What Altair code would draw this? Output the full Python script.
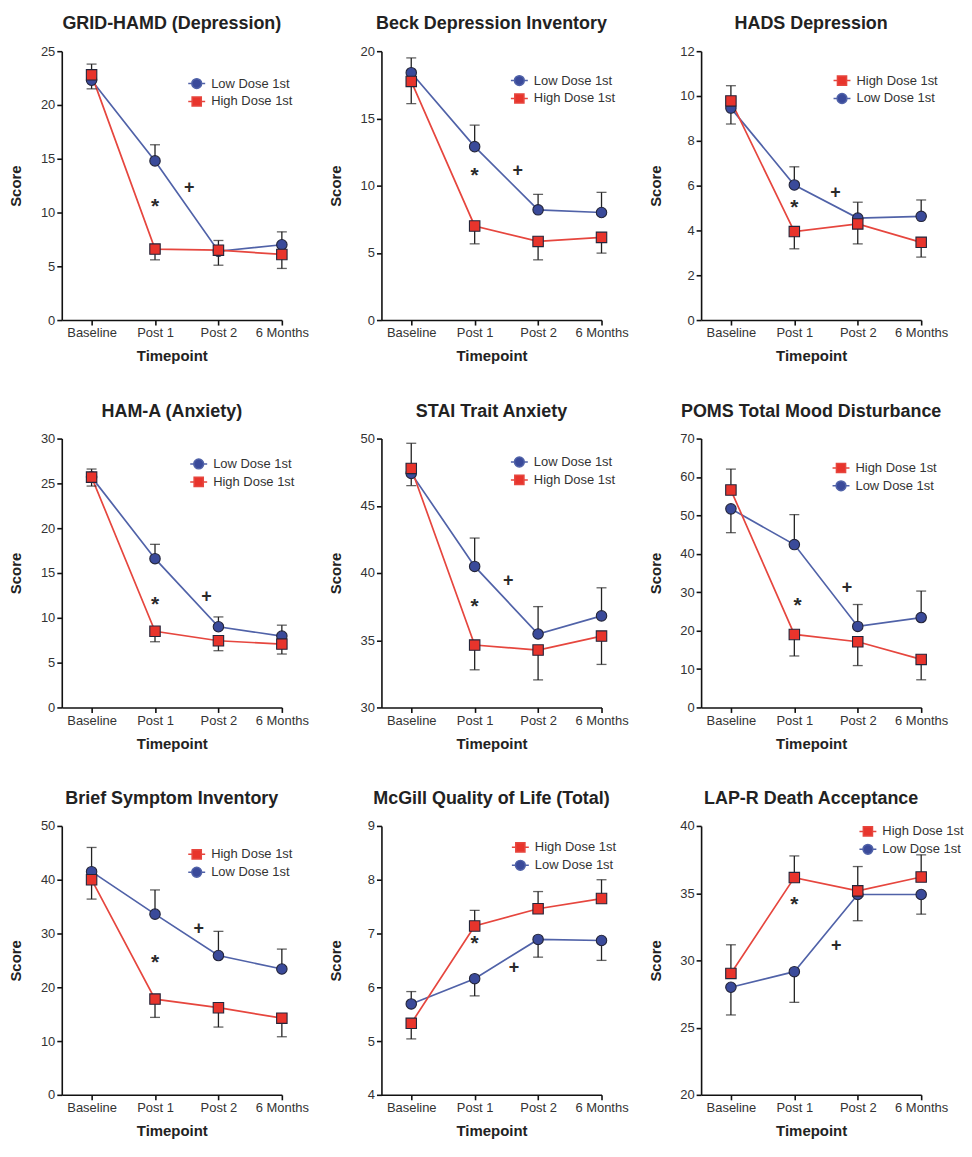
import json
import altair as alt
import pandas as pd

TIMEPOINTS = ["Baseline", "Post 1", "Post 2", "6 Months"]
LOW = "Low Dose 1st"
HIGH = "High Dose 1st"

# ---- values (means and end of the one-sided error bar) ----
hamd_low = [22.3, 14.8, 6.4, 7.0]
hamd_low_bar = [21.5, 16.3, 7.4, 8.2]
hamd_high = [22.8, 6.6, 6.5, 6.1]
hamd_high_bar = [23.8, 5.6, 5.1, 4.8]
hamd_star = [1.0, 10.5]
hamd_plus = [1.54, 12.3]

beck_low = [18.4, 12.9, 8.2, 8.0]
beck_low_bar = [19.5, 14.5, 9.35, 9.5]
beck_high = [17.75, 7.0, 5.85, 6.15]
beck_high_bar = [16.1, 5.67, 4.48, 4.98]
beck_star = [1.0, 10.75]
beck_plus = [1.68, 11.1]

hads_low = [9.46, 6.03, 4.55, 4.63]
hads_low_bar = [8.75, 6.84, 5.26, 5.36]
hads_high = [9.78, 3.95, 4.29, 3.47]
hads_high_bar = [10.46, 3.18, 3.4, 2.81]
hads_star = [1.0, 5.0]
hads_plus = [1.65, 5.65]

hama_low = [25.7, 16.6, 9.0, 7.96]
hama_low_bar = [26.6, 18.2, 10.1, 9.18]
hama_high = [25.7, 8.5, 7.44, 7.07]
hama_high_bar = [24.7, 7.33, 6.33, 5.96]
hama_star = [1.0, 11.4]
hama_plus = [1.81, 12.3]

stai_low = [47.41, 40.49, 35.46, 36.81]
stai_low_bar = [46.5, 42.6, 37.5, 38.9]
stai_high = [47.78, 34.64, 34.27, 35.31]
stai_high_bar = [49.65, 32.8, 32.05, 33.2]
stai_star = [1.0, 37.46]
stai_plus = [1.53, 39.4]

poms_low = [51.7, 42.4, 21.1, 23.4]
poms_low_bar = [45.5, 50.2, 26.8, 30.3]
poms_high = [56.6, 19.0, 17.1, 12.5]
poms_high_bar = [62.05, 13.4, 10.9, 7.2]
poms_star = [1.05, 26.4]
poms_plus = [1.83, 31.2]

bsi_low = [41.5, 33.6, 25.9, 23.4]
bsi_low_bar = [46.0, 38.1, 30.4, 27.1]
bsi_high = [40.0, 17.8, 16.2, 14.25]
bsi_high_bar = [36.4, 14.4, 12.6, 10.8]
bsi_star = [1.0, 24.6]
bsi_plus = [1.69, 30.9]

mcgill_low = [5.69, 6.16, 6.89, 6.87]
mcgill_low_bar = [5.92, 5.84, 6.56, 6.5]
mcgill_high = [5.33, 7.14, 7.46, 7.65]
mcgill_high_bar = [5.04, 7.43, 7.78, 8.0]
mcgill_star = [1.0, 6.8]
mcgill_plus = [1.62, 6.35]

lapr_low = [28.0, 29.16, 34.9, 34.9]
lapr_low_bar = [25.94, 26.88, 32.95, 33.44]
lapr_high = [29.03, 36.16, 35.17, 36.2]
lapr_high_bar = [31.16, 37.77, 36.98, 37.85]
lapr_star = [1.0, 34.1]
lapr_plus = [1.66, 31.04]

# ---- panel definitions: title, y axis ticks, data, legend order ----
PANELS = [
    ("GRID-HAMD (Depression)", [0, 5, 10, 15, 20, 25], hamd_low, hamd_low_bar, hamd_high, hamd_high_bar, hamd_star, hamd_plus, [LOW, HIGH]),
    ("Beck Depression Inventory", [0, 5, 10, 15, 20], beck_low, beck_low_bar, beck_high, beck_high_bar, beck_star, beck_plus, [LOW, HIGH]),
    ("HADS Depression", [0, 2, 4, 6, 8, 10, 12], hads_low, hads_low_bar, hads_high, hads_high_bar, hads_star, hads_plus, [HIGH, LOW]),
    ("HAM-A (Anxiety)", [0, 5, 10, 15, 20, 25, 30], hama_low, hama_low_bar, hama_high, hama_high_bar, hama_star, hama_plus, [LOW, HIGH]),
    ("STAI Trait Anxiety", [30, 35, 40, 45, 50], stai_low, stai_low_bar, stai_high, stai_high_bar, stai_star, stai_plus, [LOW, HIGH]),
    ("POMS Total Mood Disturbance", [0, 10, 20, 30, 40, 50, 60, 70], poms_low, poms_low_bar, poms_high, poms_high_bar, poms_star, poms_plus, [HIGH, LOW]),
    ("Brief Symptom Inventory", [0, 10, 20, 30, 40, 50], bsi_low, bsi_low_bar, bsi_high, bsi_high_bar, bsi_star, bsi_plus, [HIGH, LOW]),
    ("McGill Quality of Life (Total)", [4, 5, 6, 7, 8, 9], mcgill_low, mcgill_low_bar, mcgill_high, mcgill_high_bar, mcgill_star, mcgill_plus, [HIGH, LOW]),
    ("LAP-R Death Acceptance", [20, 25, 30, 35, 40], lapr_low, lapr_low_bar, lapr_high, lapr_high_bar, lapr_star, lapr_plus, [HIGH, LOW]),
]

# legend placement inside each plot (pixels from plot's top-left)
LEGEND_POS = [(126, 23), (129, 20), (132, 20), (128, 16), (129, 14), (131, 20), (126, 19), (130, 12), (158, -4)]

FONT = "Liberation Sans"
LINE_COL = {LOW: "#5062a8", HIGH: "#e6463e"}
FILL_COL = {LOW: "#3a4a9a", HIGH: "#e8342c"}
SHAPE = {LOW: "circle", HIGH: "square"}
LEG_SHAPE = {
    LOW: "M-1,0H-0.58M0.58,0H1M0.58,0A0.58,0.58,0,1,1,-0.58,0A0.58,0.58,0,1,1,0.58,0Z",
    HIGH: "M-1,0H-0.54M0.54,0H1M-0.54,-0.54H0.54V0.54H-0.54Z",
}
W, H = 221, 270
label_expr = json.dumps(TIMEPOINTS) + "[datum.value]"


def panel(spec, pos):
    title, yticks, lo, lo_bar, hi, hi_bar, star, plus, order = spec
    rows = []
    for s, vals, bars in ((LOW, lo, lo_bar), (HIGH, hi, hi_bar)):
        for i, t in enumerate(TIMEPOINTS):
            rows.append({"series": s, "t": t, "x": i, "y": vals[i], "bar": bars[i],
                         "z": 0 if s == LOW else 1})
    df = pd.DataFrame(rows)
    ann = pd.DataFrame({"x": [star[0], plus[0]], "y": [star[1], plus[1]],
                        "txt": ["*", "+"], "dy": [6, 0], "fs": [21, 18]})

    xsc = alt.Scale(domain=[-0.47, 3], nice=False, zero=False)
    ysc = alt.Scale(domain=[yticks[0], yticks[-1]], nice=False, zero=False)
    xax = alt.Axis(values=[0, 1, 2, 3], labelExpr=label_expr, title="Timepoint",
                   labelOverlap=False, labelFlush=False, labelPadding=2, titlePadding=9)
    yax = alt.Axis(values=yticks, title="Score", minExtent=30, maxExtent=30, titlePadding=8,
                   labelOverlap=False, labelFlush=False)
    X = alt.X("x:Q", scale=xsc, axis=xax)
    Y = alt.Y("y:Q", scale=ysc, axis=yax)
    YB = alt.Y("bar:Q", scale=ysc, axis=yax)

    base = alt.Chart(df)
    lines = base.mark_line(strokeWidth=1.7).encode(
        x=X, y=Y,
        color=alt.Color("series:N", scale=alt.Scale(domain=order, range=[LINE_COL[o] for o in order]), legend=None),
        detail="series:N",
    )
    rules = base.mark_rule(color="#222222", strokeWidth=1.3).encode(x=X, y=Y, y2="bar:Q")
    caps = base.mark_tick(orient="horizontal", size=10, thickness=1.3, color="#222222").encode(x=X, y=YB)
    points = base.mark_point(filled=True, size=110, stroke="#23253a", strokeWidth=1.1, opacity=1).encode(
        x=X, y=Y,
        fill=alt.Fill("series:N", scale=alt.Scale(domain=order, range=[FILL_COL[o] for o in order]), legend=None),
        shape=alt.Shape("series:N", scale=alt.Scale(domain=order, range=[SHAPE[o] for o in order]), legend=None),
        order=alt.Order("z:Q"),
    )
    txt = alt.Chart(ann).mark_text(fontWeight="bold", color="#2a2a2a", font=FONT).encode(
        x=X, y=Y, text="txt:N", yOffset="dy:Q",
        size=alt.Size("fs:Q", scale=None, legend=None))
    leg = alt.Legend(orient="none", legendX=pos[0], legendY=pos[1], title=None, padding=0,
                     rowPadding=0, symbolSize=289, symbolStrokeWidth=1.5, labelOffset=5,
                     labelFontSize=13, labelFont=FONT, labelColor="#333333", labelLimit=200)
    legend_layer = base.transform_filter("false").mark_point(filled=True, opacity=1, strokeWidth=1.5).encode(
        x=X, y=Y,
        fill=alt.Fill("series:N", scale=alt.Scale(domain=order, range=[FILL_COL[o] for o in order]), legend=leg),
        stroke=alt.Stroke("series:N", scale=alt.Scale(domain=order, range=[LINE_COL[o] for o in order]), legend=leg),
        shape=alt.Shape("series:N", scale=alt.Scale(domain=order, range=[LEG_SHAPE[o] for o in order]), legend=leg),
    )
    return alt.layer(lines, rules, caps, points, txt, legend_layer).resolve_scale(
        color="independent", fill="independent", stroke="independent", shape="independent",
        size="independent"
    ).properties(width=W, height=H, title=alt.TitleParams(title, frame="group"))


charts = [panel(s, p) for s, p in zip(PANELS, LEGEND_POS)]
rows = [alt.hconcat(*charts[i:i + 3], spacing=20).resolve_scale(
    color="independent", fill="independent", stroke="independent", shape="independent", size="independent")
    for i in (0, 3, 6)]
chart = alt.vconcat(*rows, spacing=39).resolve_scale(
    color="independent", fill="independent", stroke="independent", shape="independent", size="independent"
).properties(padding={"left": 1, "top": 5, "right": 0, "bottom": 0}).configure_view(stroke=None).configure_axis(
    grid=False, domainColor="#111111", domainWidth=1.6, tickColor="#111111", tickWidth=1.6, tickSize=5,
    labelFont=FONT, labelFontSize=13, labelColor="#333333",
    titleFont=FONT, titleFontSize=15, titleFontWeight="bold", titleColor="#222222",
).configure_title(font=FONT, fontSize=18, fontWeight="bold", color="#222222", anchor="middle", offset=12)

chart.save("out.html", embed_options={"renderer": "svg", "actions": False})
